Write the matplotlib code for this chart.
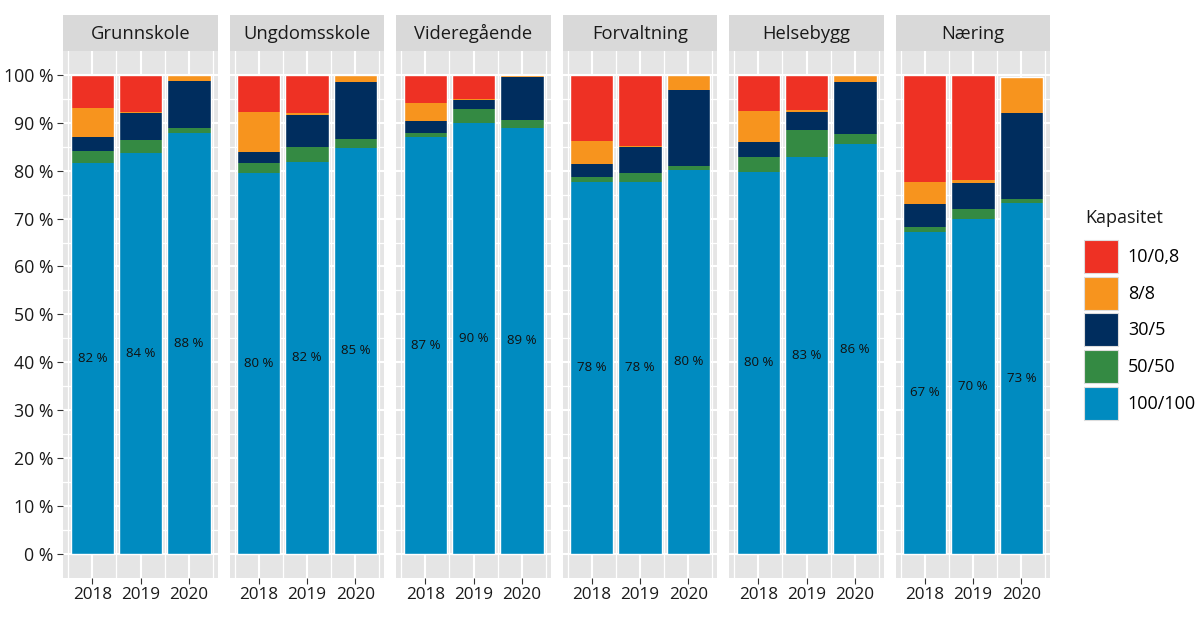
import matplotlib
matplotlib.use("Agg")
import matplotlib.pyplot as plt
from matplotlib.patches import Patch
import numpy as np

plt.rcParams['font.family'] = ['Open Sans', 'DejaVu Sans']

categories = ["Grunnskole", "Ungdomsskole", "Videregående", "Forvaltning", "Helsebygg", "Næring"]
years = ["2018", "2019", "2020"]

# stacked from bottom to top
v100 = [[81.6, 83.7, 87.8], [79.6, 81.9, 84.8], [87.1, 89.9, 88.9],
        [77.7, 77.7, 80.2], [79.8, 82.9, 85.5], [67.3, 69.9, 73.3]]
v50 = [[2.6, 2.7, 1.1], [2.0, 3.0, 1.8], [0.7, 2.9, 1.6],
       [0.9, 1.8, 0.8], [3.1, 5.5, 2.2], [1.0, 2.1, 0.8]]
v30 = [[2.9, 5.6, 9.9], [2.4, 6.7, 11.9], [2.5, 2.0, 9.0],
       [2.8, 5.4, 15.9], [3.0, 3.9, 10.8], [4.8, 5.5, 17.9]]
v8 = [[5.9, 0.3, 1.2], [8.3, 0.4, 1.5], [3.8, 0.2, 0.3],
      [4.8, 0.3, 3.1], [6.6, 0.4, 1.5], [4.6, 0.6, 7.6]]
v10 = [[7.0, 7.7, 0.0], [7.7, 8.0, 0.0], [5.9, 5.0, 0.2],
       [13.8, 14.8, 0.0], [7.5, 7.3, 0.0], [22.3, 21.9, 0.0]]

series_names = ["100/100", "50/50", "30/5", "8/8", "10/0,8"]
series_vals = [v100, v50, v30, v8, v10]
colors = ["#008bc0", "#348a43", "#002d5e", "#f7941e", "#ee3124"]
legend_title = "Kapasitet"

W, H = 1200, 621
fig = plt.figure(figsize=(W / 100, H / 100), dpi=100)

left0 = 63.3
pw = 154.5
gap = 12.0
ptop = 51.0
pbot = 577.7
strip_h = 36.0

for i, cat in enumerate(categories):
    x0 = left0 + i * (pw + gap)
    ax = fig.add_axes([x0 / W, 1 - pbot / H, pw / W, (pbot - ptop) / H])
    ax.set_facecolor("#e5e5e5")
    x = np.arange(1, len(years) + 1)
    ax.set_xlim(0.4, 3.6)
    ax.set_ylim(-5, 105)
    ax.set_xticks(x)
    ax.set_xticks([0.5, 1.5, 2.5, 3.5], minor=True)
    ax.set_yticks(np.arange(0, 101, 10))
    ax.set_yticks(np.arange(5, 101, 10), minor=True)
    ax.grid(which="major", color="white", linewidth=1.5)
    ax.grid(which="minor", color="white", linewidth=0.9)
    ax.set_axisbelow(True)
    for s in ax.spines.values():
        s.set_visible(False)

    bottom = np.zeros(len(years))
    for vals, col in zip(series_vals, colors):
        h = np.array(vals[i])
        ax.bar(x, h, bottom=bottom, width=0.9, color=col, linewidth=0, zorder=2)
        bottom = bottom + h
    ax.bar(x, bottom, width=0.9, fill=False, edgecolor="white", linewidth=1.0, zorder=3)

    for xi, b in zip(x, v100[i]):
        ax.text(xi, b / 2, f"{round(b)} %", ha="center", va="center", fontsize=9.5, color="#111111", zorder=4)

    ax.set_xticklabels(years, fontsize=12.3, color="#1a1a1a")
    ax.tick_params(axis="x", which="major", length=4, width=0.8, color="#333333", pad=3)
    ax.tick_params(which="minor", length=0)
    if i == 0:
        ax.set_yticklabels([f"{v} %" for v in range(0, 101, 10)], fontsize=12.8, color="#1a1a1a")
        ax.tick_params(axis="y", which="major", length=4, width=0.8, color="#333333", pad=3)
    else:
        ax.tick_params(axis="y", which="both", length=0, labelleft=False)

    sax = fig.add_axes([x0 / W, 1 - ptop / H, pw / W, strip_h / H])
    sax.set_facecolor("#d9d9d9")
    sax.set_xticks([])
    sax.set_yticks([])
    for s in sax.spines.values():
        s.set_visible(False)
    sax.text(0.5, 0.48, cat, ha="center", va="center", fontsize=13.2, color="#1a1a1a", transform=sax.transAxes)

handles = [Patch(facecolor=c, edgecolor="#dddddd", linewidth=0.8, label=n)
           for n, c in zip(series_names[::-1], colors[::-1])]
fig.text(1085 / W, 1 - 218 / H, legend_title, ha="left", va="center", fontsize=13, color="#1a1a1a")
leg = fig.legend(handles=handles, loc="upper left",
                 bbox_to_anchor=(1084 / W, 1 - 240 / H), frameon=False,
                 fontsize=13, handlelength=1.88, handleheight=2.44,
                 labelspacing=0.2, handletextpad=0.55, borderaxespad=0, borderpad=0)

fig.savefig("out.png", dpi=100)
